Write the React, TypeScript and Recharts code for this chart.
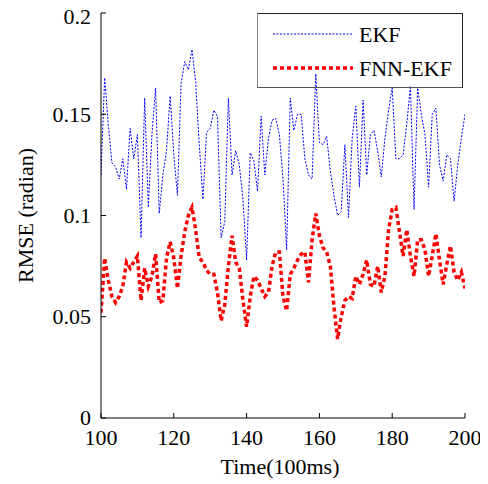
import React from 'react';
import { LineChart, Line, XAxis, YAxis, Legend } from 'recharts';

const times = [
  100, 101, 102, 103, 104, 105, 106, 107, 108, 109, 110, 111, 112, 113, 114, 115, 116, 117, 118, 119,
  120, 121, 122, 123, 124, 125, 126, 127, 128, 129, 130, 131, 132, 133, 134, 135, 136, 137, 138, 139,
  140, 141, 142, 143, 144, 145, 146, 147, 148, 149, 150, 151, 152, 153, 154, 155, 156, 157, 158, 159,
  160, 161, 162, 163, 164, 165, 166, 167, 168, 169, 170, 171, 172, 173, 174, 175, 176, 177, 178, 179,
  180, 181, 182, 183, 184, 185, 186, 187, 188, 189, 190, 191, 192, 193, 194, 195, 196, 197, 198, 199, 200,
];

const ekf = [
  0.120, 0.168, 0.145, 0.126, 0.124, 0.118, 0.128, 0.113, 0.143, 0.128,
  0.140, 0.089, 0.158, 0.104, 0.140, 0.163, 0.101, 0.120, 0.132, 0.159,
  0.130, 0.110, 0.165, 0.176, 0.172, 0.182, 0.166, 0.135, 0.108, 0.141,
  0.143, 0.152, 0.149, 0.089, 0.097, 0.158, 0.120, 0.132, 0.125, 0.108,
  0.078, 0.131, 0.127, 0.112, 0.149, 0.120, 0.138, 0.147, 0.148, 0.140,
  0.118, 0.083, 0.158, 0.142, 0.150, 0.150, 0.128, 0.120, 0.118, 0.170,
  0.136, 0.135, 0.139, 0.122, 0.110, 0.100, 0.102, 0.135, 0.099, 0.138,
  0.154, 0.114, 0.157, 0.120, 0.140, 0.142, 0.132, 0.119, 0.138, 0.152,
  0.163, 0.128, 0.128, 0.130, 0.145, 0.164, 0.103, 0.163, 0.150, 0.140,
  0.114, 0.150, 0.153, 0.125, 0.117, 0.130, 0.128, 0.107, 0.125, 0.138, 0.150,
];

const fnnEkf = [
  0.052, 0.079, 0.068, 0.060, 0.057, 0.060, 0.065, 0.077, 0.074, 0.077,
  0.080, 0.058, 0.074, 0.065, 0.070, 0.081, 0.057, 0.058, 0.079, 0.087,
  0.079, 0.064, 0.080, 0.092, 0.100, 0.104, 0.093, 0.079, 0.077, 0.073,
  0.071, 0.071, 0.062, 0.048, 0.056, 0.075, 0.090, 0.077, 0.074, 0.058,
  0.045, 0.060, 0.070, 0.068, 0.064, 0.060, 0.062, 0.075, 0.082, 0.082,
  0.060, 0.053, 0.071, 0.074, 0.078, 0.081, 0.082, 0.067, 0.088, 0.101,
  0.090, 0.084, 0.082, 0.075, 0.055, 0.039, 0.050, 0.058, 0.060, 0.059,
  0.070, 0.066, 0.071, 0.078, 0.066, 0.065, 0.075, 0.062, 0.070, 0.093,
  0.103, 0.104, 0.092, 0.080, 0.093, 0.080, 0.070, 0.088, 0.088, 0.083,
  0.070, 0.080, 0.091, 0.078, 0.066, 0.076, 0.085, 0.072, 0.068, 0.072, 0.064,
];

const xTicks = [100, 120, 140, 160, 180, 200];
const yTicks = [0, 0.05, 0.1, 0.15, 0.2];

const data = times.map((t, i) => ({ t, ekf: ekf[i], fnn: fnnEkf[i] }));

const FONT = '"Liberation Serif", "Times New Roman", serif';
const textStyle = { fontFamily: FONT, fontSize: 22 };

const LegendBox = () => (
  <div
    style={{
      width: 206,
      height: 75,
      boxSizing: 'border-box',
      border: '1px solid #222',
      borderLeft: '1.5px solid #888',
      borderBottom: '1.5px solid #555',
      background: 'transparent',
      position: 'relative',
    }}
  >
    <svg width={206} height={75} style={{ position: 'absolute', left: 0, top: 0 }}>
      <line x1={15} y1={20} x2={95} y2={20} stroke="#0000ff" strokeWidth={1} strokeDasharray="2 1.5" />
      <line x1={15} y1={54} x2={95} y2={54} stroke="#ff0000" strokeWidth={3.5} strokeDasharray="4 3" />
      <text x={101} y={28} style={textStyle} fill="#000">EKF</text>
      <text x={101} y={62} style={textStyle} fill="#000">FNN-EKF</text>
    </svg>
  </div>
);

const YLabel = (props: any) => {
  const vb = props.viewBox || { x: 0, y: 5, width: 93, height: 405 };
  const cx = 17;
  const cy = vb.y + vb.height / 2;
  return (
    <text
      x={cx}
      y={cy}
      transform={`rotate(-90 ${cx} ${cy})`}
      textAnchor="middle"
      dominantBaseline="central"
      style={textStyle}
      fill="#000"
    >
      RMSE (radian)
    </text>
  );
};

const XLabel = (props: any) => {
  const vb = props.viewBox || { x: 93, y: 410, width: 364, height: 66 };
  const cx = vb.x + vb.width / 2 - 3;
  return (
    <text x={cx} y={466} textAnchor="middle" style={textStyle} fill="#000">
      Time(100ms)
    </text>
  );
};

const XTick = (props: any) => {
  const { x, y, payload } = props;
  return (
    <text x={x} y={y} dy="0.71em" textAnchor="middle" style={textStyle} fill="#000">
      {String(payload.value)}
    </text>
  );
};

const YTick = (props: any) => {
  const { x, y, payload } = props;
  return (
    <text x={x} y={y} dy="0.34em" textAnchor="end" style={textStyle} fill="#000">
      {String(payload.value)}
    </text>
  );
};

export default function App() {
  return (
    <LineChart
      width={480}
      height={476}
      data={data}
      margin={{ top: 5, right: 23, left: 0, bottom: 0 }}
    >
      <XAxis
        dataKey="t"
        type="number"
        domain={[100, 200]}
        ticks={xTicks}
        allowDataOverflow
        height={66}
        stroke="#000"
        tick={<XTick />}
        tickSize={-5}
        tickMargin={16}
        label={{ content: XLabel }}
      />
      <XAxis
        xAxisId="top"
        dataKey="t"
        type="number"
        orientation="top"
        domain={[100, 200]}
        ticks={xTicks}
        height={0}
        stroke="#000"
        tick={false}
        tickSize={-5}
      />
      <YAxis
        type="number"
        domain={[0, 0.2]}
        ticks={yTicks}
        allowDataOverflow
        width={93}
        stroke="#000"
        tick={<YTick />}
        tickSize={-5}
        tickMargin={15}
        label={{ content: YLabel }}
      />
      <YAxis
        yAxisId="right"
        type="number"
        orientation="right"
        domain={[0, 0.2]}
        ticks={yTicks}
        width={0}
        stroke="#000"
        tick={false}
        tickSize={-5}
      />
      <Legend
        layout="vertical"
        align="center"
        verticalAlign="middle"
        content={() => <LegendBox />}
        wrapperStyle={{ position: 'absolute', left: 249, top: 5, width: 206, height: 75 }}
      />
      <Line
        type="linear"
        dataKey="ekf"
        name="EKF"
        stroke="#0000ff"
        strokeWidth={1}
        strokeDasharray="2 1.5"
        dot={false}
        activeDot={false}
        isAnimationActive={false}
      />
      <Line
        type="linear"
        dataKey="fnn"
        name="FNN-EKF"
        stroke="#ff0000"
        strokeWidth={3.5}
        strokeDasharray="4 3"
        dot={false}
        activeDot={false}
        isAnimationActive={false}
      />
    </LineChart>
  );
}
